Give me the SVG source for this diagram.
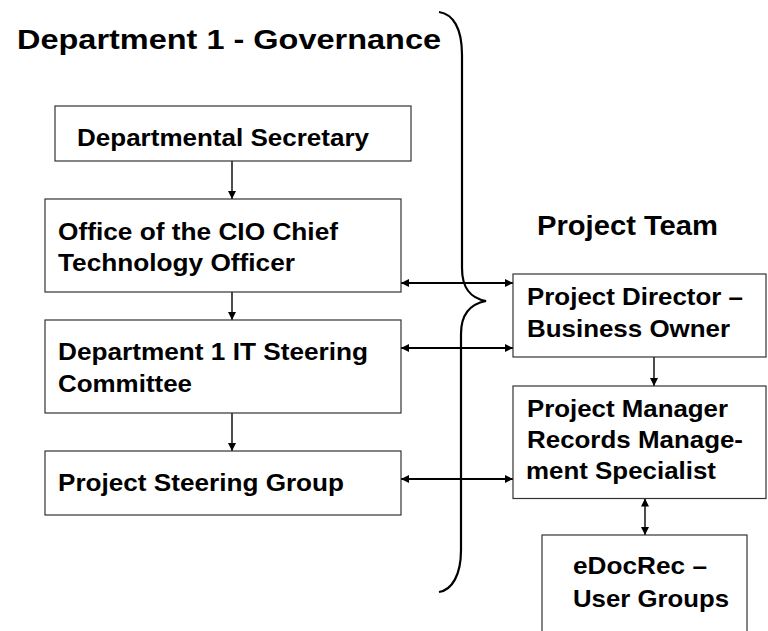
<svg xmlns="http://www.w3.org/2000/svg" width="768" height="631" viewBox="0 0 768 631">
<defs>
<style>
.box{fill:#fff;stroke:#333;stroke-width:1.2}
.t{font-family:"Liberation Sans",Arial,sans-serif;font-weight:bold;font-size:24.5px;fill:#000}
.title{font-family:"Liberation Sans",Arial,sans-serif;font-weight:bold;font-size:27px;fill:#000}
.ln{stroke:#000;stroke-width:1.4;fill:none}
.ln2{stroke:#000;stroke-width:2;fill:none}
</style>
<marker id="ah" viewBox="0 0 10 10" refX="10" refY="5" markerWidth="8" markerHeight="8" markerUnits="userSpaceOnUse" orient="auto-start-reverse">
<path d="M0,0 L10,5 L0,10 z" fill="#000"/>
</marker>
<marker id="ah2" viewBox="0 0 10 10" refX="10" refY="5" markerWidth="9" markerHeight="8" markerUnits="userSpaceOnUse" orient="auto-start-reverse">
<path d="M0,0 L10,5 L0,10 z" fill="#000"/>
</marker>
</defs>
<rect width="768" height="631" fill="#fff"/>
<g id="title-gov"><text class="title" x="17" y="49" textLength="424" lengthAdjust="spacingAndGlyphs">Department 1 - Governance</text></g>
<g id="title-team"><text class="title" x="537" y="235" font-size="28" textLength="181" lengthAdjust="spacingAndGlyphs">Project Team</text></g>

<g id="connectors">
<line class="ln" x1="232" y1="161" x2="232" y2="199" marker-end="url(#ah)"/>
<line class="ln" x1="232" y1="292" x2="232" y2="320" marker-end="url(#ah)"/>
<line class="ln" x1="232" y1="413" x2="232" y2="451" marker-end="url(#ah)"/>
<line class="ln" x1="654" y1="357" x2="654" y2="386" marker-end="url(#ah)"/>
<line class="ln" x1="645" y1="498.5" x2="645" y2="535" marker-start="url(#ah)" marker-end="url(#ah)"/>
<line class="ln2" x1="401" y1="283" x2="513" y2="283" marker-start="url(#ah2)" marker-end="url(#ah2)"/>
<line class="ln2" x1="401" y1="348" x2="513" y2="348" marker-start="url(#ah2)" marker-end="url(#ah2)"/>
<line class="ln2" x1="401" y1="479" x2="513" y2="479" marker-start="url(#ah2)" marker-end="url(#ah2)"/>
</g>

<g id="brace"><path d="M439,12 C453,14 462,28 462,55 L462,268 C462,288 470,298 486,301 C470,304 461,314 461,334 L461,550 C461,575 452,590 439,592" fill="none" stroke="#000" stroke-width="2.2"/></g>

<g id="n-secretary">
<rect class="box" x="55" y="106" width="356" height="55"/>
<text class="t" x="77" y="146" textLength="292" lengthAdjust="spacingAndGlyphs">Departmental Secretary</text>
</g>
<g id="n-cio">
<rect class="box" x="45" y="199" width="356" height="93"/>
<text class="t" x="58" y="240" textLength="280" lengthAdjust="spacingAndGlyphs">Office of the CIO Chief</text>
<text class="t" x="58" y="271" textLength="237" lengthAdjust="spacingAndGlyphs">Technology Officer</text>
</g>
<g id="n-itsc">
<rect class="box" x="45" y="320" width="356" height="93"/>
<text class="t" x="58" y="360" textLength="310" lengthAdjust="spacingAndGlyphs">Department 1 IT Steering</text>
<text class="t" x="58" y="392" textLength="134" lengthAdjust="spacingAndGlyphs">Committee</text>
</g>
<g id="n-psg">
<rect class="box" x="45" y="451" width="356" height="64"/>
<text class="t" x="58" y="491" textLength="286" lengthAdjust="spacingAndGlyphs">Project Steering Group</text>
</g>
<g id="n-director">
<rect class="box" x="513" y="274" width="253" height="83"/>
<text class="t" x="527" y="305" textLength="216" lengthAdjust="spacingAndGlyphs">Project Director –</text>
<text class="t" x="527" y="337" textLength="203" lengthAdjust="spacingAndGlyphs">Business Owner</text>
</g>
<g id="n-manager">
<rect class="box" x="513" y="386" width="253" height="112.5"/>
<text class="t" x="527" y="417" textLength="201" lengthAdjust="spacingAndGlyphs">Project Manager</text>
<text class="t" x="527" y="448" textLength="216" lengthAdjust="spacingAndGlyphs">Records Manage-</text>
<text class="t" x="526" y="479" textLength="190" lengthAdjust="spacingAndGlyphs">ment Specialist</text>
</g>
<g id="n-edocrec">
<rect class="box" x="542" y="535" width="205" height="110"/>
<text class="t" x="573" y="574" textLength="134" lengthAdjust="spacingAndGlyphs">eDocRec –</text>
<text class="t" x="573" y="607" textLength="156" lengthAdjust="spacingAndGlyphs">User Groups</text>
</g>
</svg>
